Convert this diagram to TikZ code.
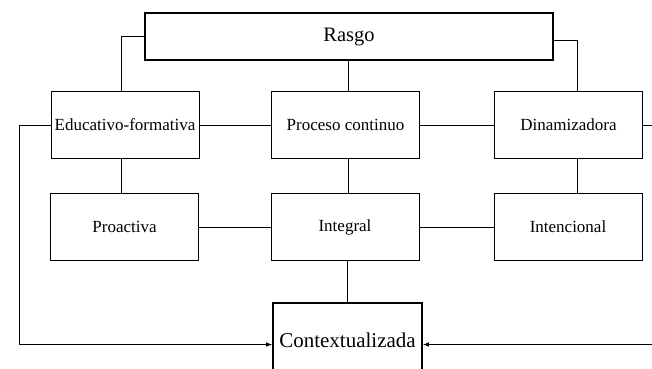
\documentclass[tikz,border=0pt]{standalone}
\usepackage{fontspec}
\setmainfont{Liberation Serif}
\usetikzlibrary{arrows.meta}
\begin{document}
\begin{tikzpicture}[x=1pt,y=-1pt,
  box/.style={draw,line width=0.9pt,minimum width=148pt,minimum height=67pt,
    inner sep=0pt,font=\fontsize{17}{19}\selectfont},
  topbox/.style={draw,line width=2.2pt,minimum width=408pt,minimum height=47pt,
    inner sep=0pt,font=\fontsize{20.5}{22}\selectfont},
  ctxbox/.style={draw,line width=1.6pt,minimum width=149pt,minimum height=75pt,
    inner sep=0pt,font=\fontsize{21}{23}\selectfont},
  link/.style={line width=0.9pt},
  arr/.style={line width=0.9pt,-{Latex[length=6pt,width=4.5pt]}}]
\clip (0,0) rectangle (652,368);
\fill[white] (0,0) rectangle (652,368);

% header
\node[topbox] (rasgo) at (349,36.5) {Rasgo};

% first row
\node[box] (edu)  at (125,125)   {Educativo-formativa};
\node[box] (proc) at (345.5,125) {Proceso continuo};
\node[box] (dina) at (568.5,125) {Dinamizadora};

% second row
\node[box] (proa)  at (124.5,227) {Proactiva};
\node[box] (integ) at (345,227)   {Integral};
\node[box] (inten) at (568,227)   {Intencional};

% bottom
\node[ctxbox] (ctx) at (347.5,340.5) {Contextualizada};

% free ends at the picture edges
\coordinate (leftc)  at (19,125);
\coordinate (rightb) at (652,344.5);
\coordinate (righta) at (652,125);

% header to first row
\draw[link] (rasgo.west) -| ([xshift=-4pt]edu.north);
\draw[link] ([xshift=2.5pt]proc.north) -- ([xshift=2.5pt]proc.north |- rasgo.south);
\draw[link] ([yshift=-4pt]rasgo.east) -| ([xshift=8.5pt]dina.north);

% first row links
\draw[link] (edu.east) -- (proc.west);
\draw[link] (proc.east) -- (dina.west);
\draw[link] (dina.east) -- (righta);

% first to second row
\draw[link] ([xshift=-4pt]edu.south) -- ([xshift=-4pt]edu.south |- proa.north);
\draw[link] ([xshift=2.5pt]proc.south) -- ([xshift=2.5pt]proc.south |- integ.north);
\draw[link] ([xshift=8.5pt]dina.south) -- ([xshift=8.5pt]dina.south |- inten.north);

% second row links
\draw[link] (proa.east) -- (integ.west);
\draw[link] (integ.east) -- (inten.west);

% second row to bottom
\draw[link] ([xshift=2pt]integ.south) -- ([xshift=2pt]integ.south |- ctx.north);

% arrows into the bottom box
\draw[arr] (edu.west) -- (leftc) |- ([yshift=-4pt]ctx.west);
\draw[arr] (rightb) -- ([yshift=-4pt]ctx.east);
\end{tikzpicture}
\end{document}
